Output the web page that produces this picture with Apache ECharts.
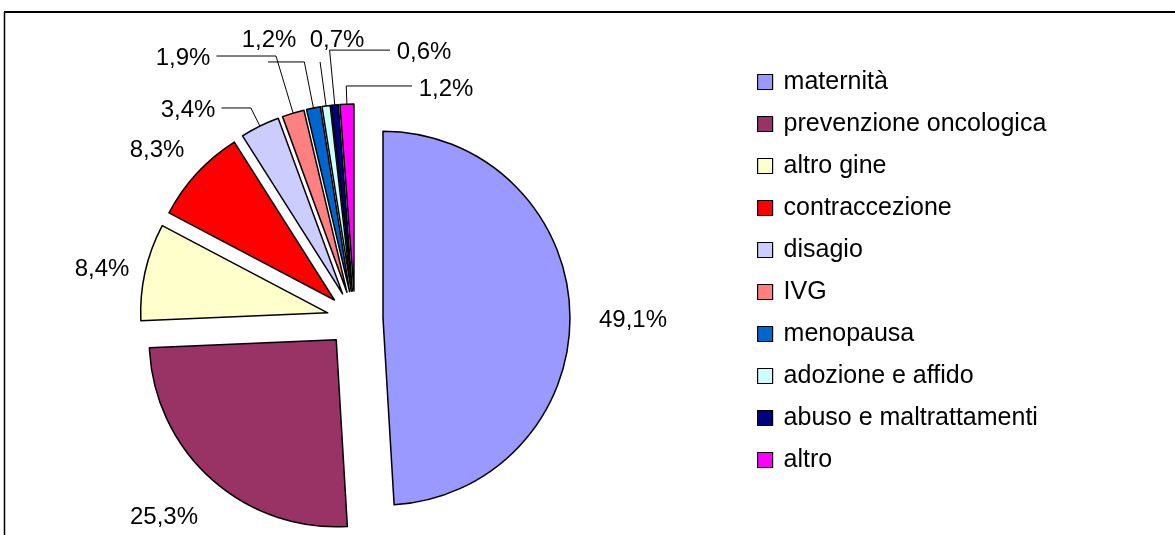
<!DOCTYPE html>
<html>
<head>
<meta charset="utf-8">
<script src="https://cdn.jsdelivr.net/npm/echarts@6/dist/echarts.min.js"></script>
<style>
  html, body { margin: 0; padding: 0; background: #fff; }
  #chart { width: 1175px; height: 535px; }
</style>
</head>
<body>
<div id="chart"></div>
<script>
  // categorie e percentuali
  var categorie = ['maternità', 'prevenzione oncologica', 'altro gine', 'contraccezione', 'disagio',
                   'IVG', 'menopausa', 'adozione e affido', 'abuso e maltrattamenti', 'altro'];
  var percentuali = [49.1, 25.3, 8.4, 8.3, 3.4, 1.9, 1.2, 0.7, 0.6, 1.2];
  var colori = ['#9999FF', '#993366', '#FFFFCC', '#FF0000', '#CCCCFF',
                '#FF8080', '#0066CC', '#CCFFFF', '#000080', '#FF00FF'];

  // linee di richiamo solo per le fette piccole (length / length2)
  var conLinea = [false, false, false, false, true, true, true, true, true, true];
  var lung1 = [10, 10, 10, 10, 20.3, 59.6, 47, 44.4, 55.1, 18.2];
  var lung2 = [0, 0, 0, 0, 29.4, 59.5, 36.3, 0, -60.4, -65.8];
  // centro delle etichette come nell'originale
  var posEtichette = [[633, 318], [164, 515], [102, 267], [157, 148], [188, 108],
                      [183, 56], [269, 38], [337, 38], [424, 50], [446, 87]];

  var esplosione = 28;

  // spostamento di ogni fetta esplosa (serve per correggere le etichette)
  var totale = percentuali.reduce(function (a, b) { return a + b; }, 0);
  var cum = 0;
  var spost = percentuali.map(function (v) {
    var a = (cum + v / 2) / totale * 2 * Math.PI;
    cum += v;
    return [esplosione * Math.sin(a), -esplosione * Math.cos(a)];
  });

  var chart = echarts.init(document.getElementById('chart'));

  var dati = categorie.map(function (c, i) {
    return {
      name: c,
      value: percentuali[i],
      selected: true,
      itemStyle: { color: colori[i] },
      labelLine: { show: conLinea[i], length: lung1[i], length2: lung2[i] }
    };
  });

  var options = {
    animation: false,
    textStyle: { fontFamily: 'Liberation Sans, Arial, sans-serif' },
    graphic: [
      { type: 'line', shape: { x1: 4, y1: 12, x2: 1175, y2: 12 }, style: { stroke: '#000', lineWidth: 2 } },
      { type: 'line', shape: { x1: 4.5, y1: 12, x2: 4.5, y2: 535 }, style: { stroke: '#000', lineWidth: 1.5 } }
    ],
    legend: {
      orient: 'vertical',
      left: 757,
      top: 69.5,
      padding: 0,
      icon: 'rect',
      itemWidth: 15,
      itemHeight: 15,
      itemGap: 17,
      selectedMode: false,
      itemStyle: { borderColor: '#000', borderWidth: 1.2 },
      textStyle: { fontSize: 25, lineHeight: 25, color: '#000', padding: [0, 0, 0, 6] },
      data: categorie
    },
    series: [
      {
        type: 'pie',
        center: [355, 319],
        radius: 187,
        startAngle: 90,
        clockwise: true,
        selectedMode: 'multiple',
        selectedOffset: esplosione,
        avoidLabelOverlap: false,
        itemStyle: { borderColor: '#000', borderWidth: 1.5 },
        select: { itemStyle: { borderColor: '#000', borderWidth: 1.5 } },
        emphasis: { disabled: true },
        label: {
          show: true,
          position: 'outside',
          fontSize: 24,
          color: '#000',
          formatter: function (p) { return p.value.toFixed(1).replace('.', ',') + '%'; }
        },
        labelLine: { minTurnAngle: 0, lineStyle: { color: '#000', width: 1 } },
        labelLayout: function (p) {
          var pos = posEtichette[p.dataIndex];
          var s = spost[p.dataIndex];
          var r = p.labelRect;
          return {
            dx: pos[0] - (r.x + r.width / 2) - s[0],
            dy: pos[1] - (r.y + r.height / 2) - s[1] + 2
          };
        },
        data: dati
      }
    ]
  };
  chart.setOption(options);
</script>
</body>
</html>
